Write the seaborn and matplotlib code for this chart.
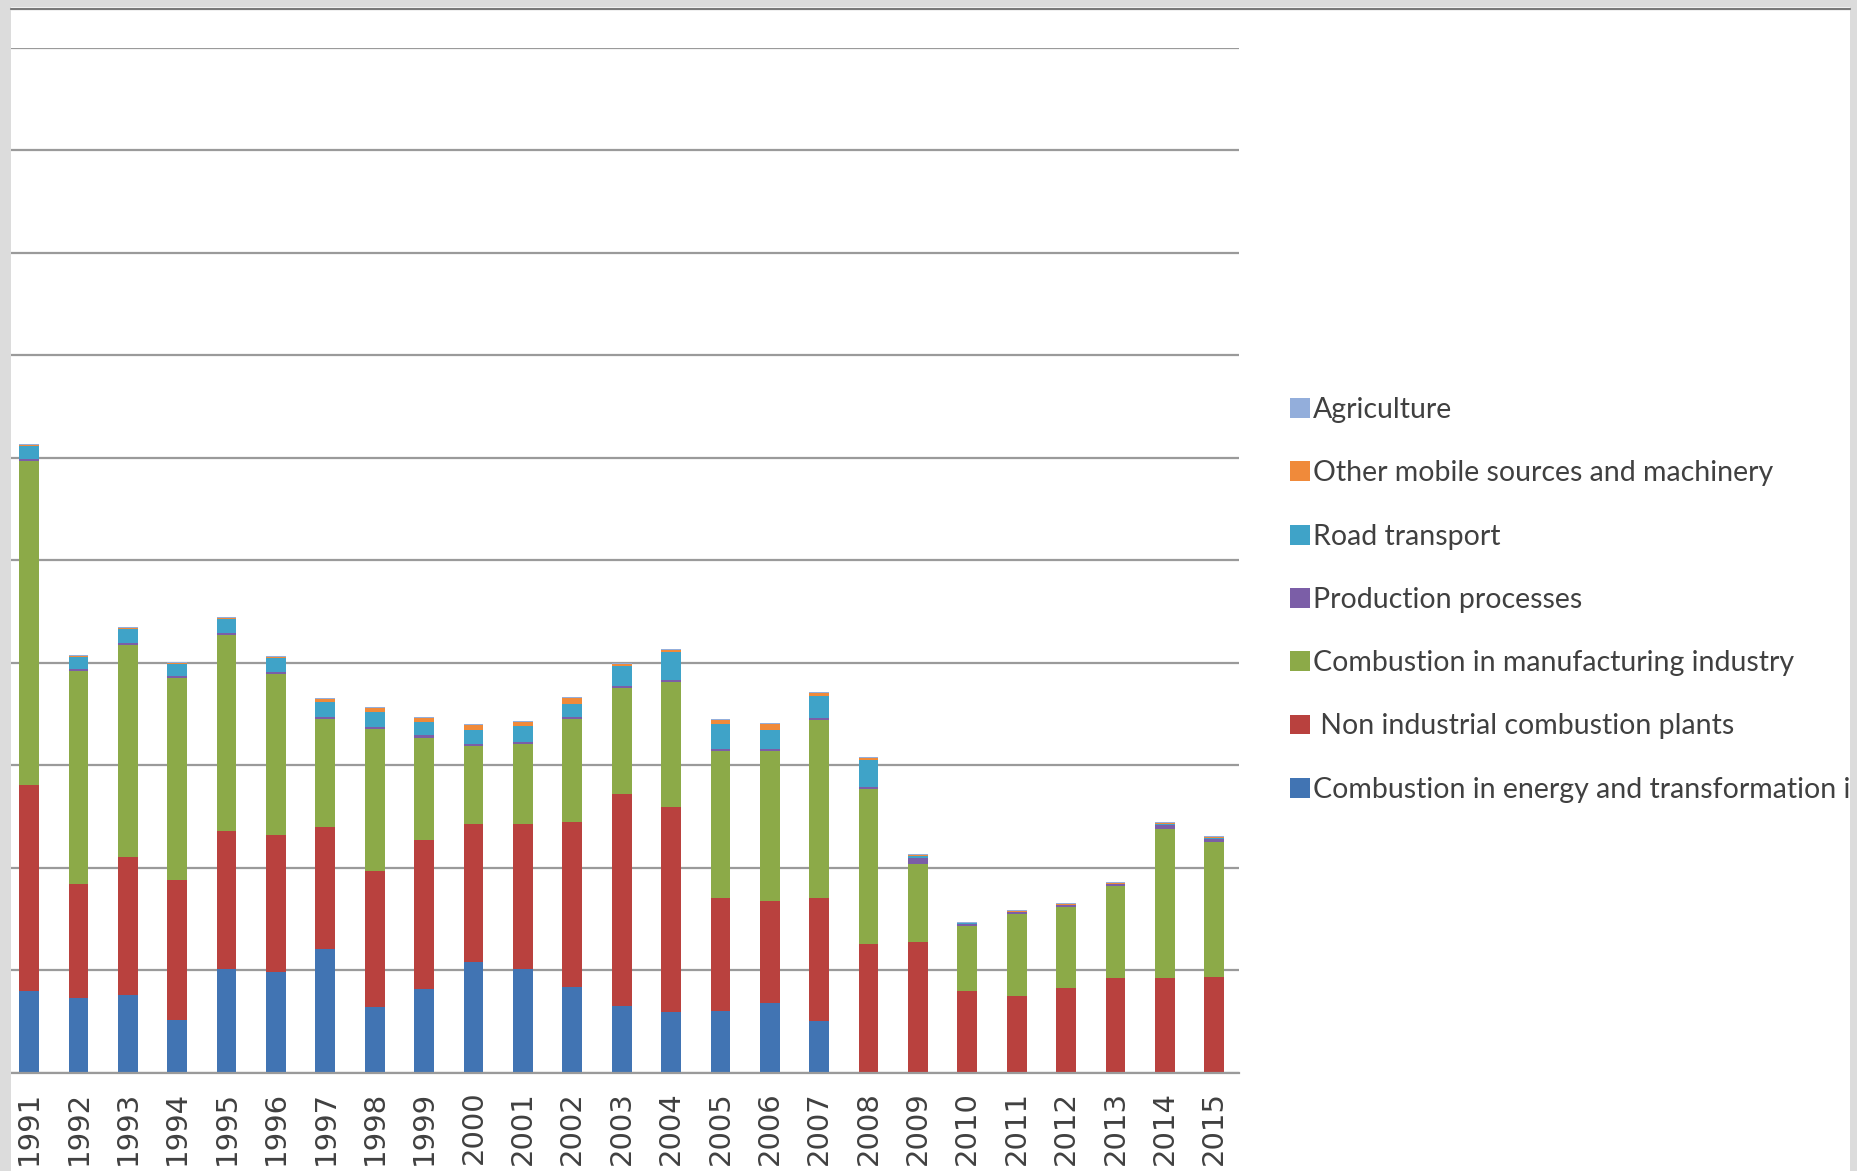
import numpy as np
import pandas as pd
import seaborn as sns
import matplotlib.pyplot as plt
from matplotlib.patches import Patch, Rectangle
from matplotlib.lines import Line2D

years = list(range(1991, 2016))

energy = [0.80, 0.73, 0.76, 0.51, 1.01, 0.98, 1.21, 0.64, 0.82, 1.08, 1.01, 0.84, 0.65,
          0.59, 0.60, 0.68, 0.50, 0.00, 0.00, 0.00, 0.00, 0.00, 0.00, 0.00, 0.00]
non_industrial = [2.01, 1.11, 1.34, 1.37, 1.35, 1.34, 1.19, 1.33, 1.45, 1.35, 1.42, 1.61, 2.07,
                  2.00, 1.10, 1.00, 1.20, 1.26, 1.28, 0.80, 0.75, 0.83, 0.92, 0.92, 0.93]
manufacturing = [3.16, 2.08, 2.07, 1.97, 1.91, 1.57, 1.05, 1.38, 1.00, 0.76, 0.78, 1.00, 1.03,
                 1.22, 1.44, 1.46, 1.74, 1.51, 0.76, 0.63, 0.80, 0.79, 0.90, 1.46, 1.32]
production = [0.02, 0.02, 0.02, 0.02, 0.02, 0.02, 0.02, 0.02, 0.02, 0.02, 0.02, 0.02, 0.02,
              0.02, 0.02, 0.02, 0.02, 0.02, 0.05, 0.02, 0.02, 0.02, 0.02, 0.04, 0.03]
road = [0.12, 0.12, 0.14, 0.12, 0.14, 0.14, 0.15, 0.15, 0.13, 0.13, 0.15, 0.13, 0.20,
        0.27, 0.24, 0.18, 0.22, 0.26, 0.02, 0.01, 0.00, 0.00, 0.00, 0.01, 0.01]
other_mobile = [0.01, 0.01, 0.01, 0.01, 0.01, 0.01, 0.03, 0.04, 0.04, 0.05, 0.04, 0.06, 0.02,
                0.02, 0.04, 0.06, 0.02, 0.02, 0.01, 0.00, 0.01, 0.01, 0.01, 0.01, 0.01]
agriculture = [0.01, 0.01, 0.01, 0.01, 0.01, 0.01, 0.01, 0.01, 0.01, 0.01, 0.01, 0.01, 0.01,
               0.01, 0.01, 0.01, 0.01, 0.01, 0.01, 0.01, 0.01, 0.01, 0.01, 0.01, 0.01]

# legend / stacking order (first = top of stack)
labels = ["Agriculture",
          "Other mobile sources and machinery",
          "Road transport",
          "Production processes",
          "Combustion in manufacturing industry",
          " Non industrial combustion plants",
          "Combustion in energy and transformation i"]
series = [agriculture, other_mobile, road, production, manufacturing, non_industrial, energy]
colors = ["#93AEDB", "#F08A3A", "#3FA3C8", "#7B5EA7", "#8CAA48", "#B9413E", "#4174B3"]

rows = []
for lab, vals in zip(labels, series):
    for y, v in zip(years, vals):
        rows.append({"year": y, "source": lab, "value": v})
df = pd.DataFrame(rows)

sns.set_style("white")
W, H = 1858, 1171
fig = plt.figure(figsize=(W / 100, H / 100), dpi=100)
fig.patch.set_facecolor("white")

left_px, right_px, top_px, bot_px = 4.3, 1239, 47.7, 1072.7
ax = fig.add_axes([left_px / W, 1 - bot_px / H, (right_px - left_px) / W, (bot_px - top_px) / H])

sns.histplot(data=df, x="year", weights="value", hue="source", hue_order=labels,
             palette=dict(zip(labels, colors)), multiple="stack", discrete=True,
             shrink=0.40, alpha=1, linewidth=0, legend=False, ax=ax)

ax.set_xlim(1990.5, 2015.5)
ax.set_ylim(0, 10)
ax.set_yticks(range(0, 11))
ax.set_yticklabels([])
ax.tick_params(axis="y", length=0)
ax.yaxis.grid(True, color="#9a9a9a", linewidth=1.6)
ax.xaxis.grid(False)
ax.set_axisbelow(True)
ax.set_xlabel("")
ax.set_ylabel("")
for s in ["top", "right", "left"]:
    ax.spines[s].set_visible(False)
ax.spines["bottom"].set_color("#9a9a9a")
ax.spines["bottom"].set_linewidth(1.6)

ax.set_xticks(years)
ax.set_xticklabels([str(y) for y in years], rotation=90, fontsize=21,
                   color="#404040", family="DejaVu Sans")
ax.tick_params(axis="x", which="major", length=0, pad=13)
ax.set_xticks(np.arange(1990.5, 2016, 1.0), minor=True)
ax.tick_params(axis="x", which="minor", length=8, width=1.4, color="#9a9a9a")

handles = [Patch(facecolor=c, edgecolor="none") for c in colors]
fig.legend(handles, labels, loc="upper left",
           bbox_to_anchor=(1290 / W, 1 - 397 / H), bbox_transform=fig.transFigure,
           frameon=False, handlelength=0.7, handleheight=0.7,
           handletextpad=0.12, labelspacing=1.31, borderpad=0, borderaxespad=0,
           prop={"family": "Lato", "size": 20.5}, labelcolor="#404040")

# screenshot frame borders
border_kw = dict(transform=None, facecolor="#dcdcdc", edgecolor="none", zorder=50)
fig.add_artist(Rectangle((0, 0), 11, H, **border_kw))
fig.add_artist(Rectangle((0, H - 7), W, 7, **border_kw))
fig.add_artist(Rectangle((1850, 0), 8, H, **border_kw))
fig.add_artist(Line2D([11 / W, 1850 / W], [1 - 8.5 / H, 1 - 8.5 / H],
                      transform=fig.transFigure, color="#7a7a7a", linewidth=1.6, zorder=51))

fig.savefig("out.png", dpi=100)
